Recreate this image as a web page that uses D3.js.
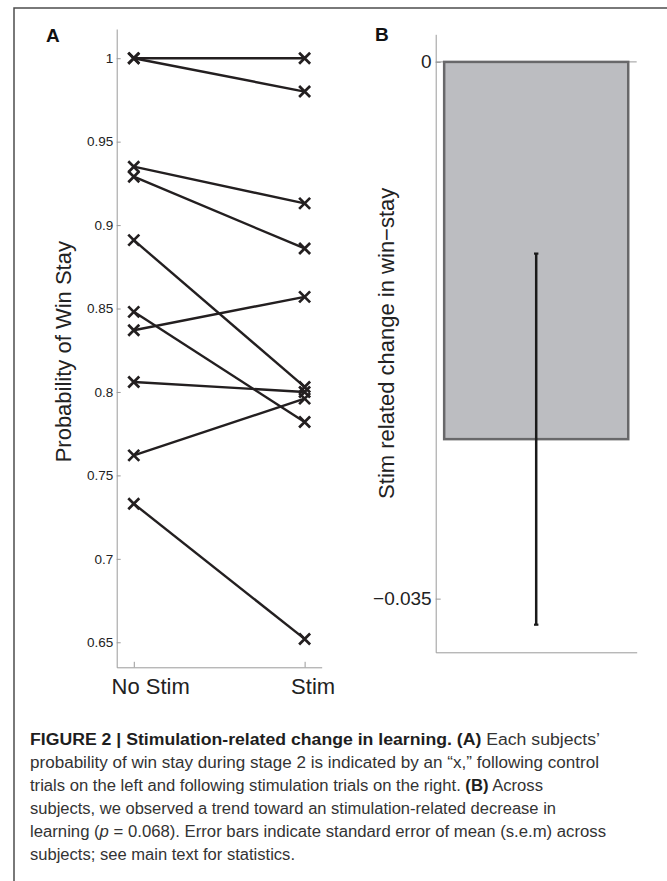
<!DOCTYPE html>
<html><head><meta charset="utf-8">
<script src="https://cdn.jsdelivr.net/npm/d3@7"></script>
<style>body{margin:0;background:#fff} svg{display:block}</style>
</head><body>
<svg id="c" width="667" height="881"></svg>
<script>
// ---------- data ----------
const conditions = ["No Stim", "Stim"];
const noStimValues = [1.000, 1.000, 0.935, 0.929, 0.891, 0.848, 0.837, 0.806, 0.762, 0.733];
const stimValues   = [1.000, 0.980, 0.913, 0.886, 0.803, 0.782, 0.857, 0.800, 0.796, 0.652];
const yTicksA = [0.65, 0.7, 0.75, 0.8, 0.85, 0.9, 0.95, 1];
const yTickLabelsA = ["0.65", "0.7", "0.75", "0.8", "0.85", "0.9", "0.95", "1"];
const barCategories = ["Stim"];
const barMeans = [-0.0246];
const barSems = [0.0121];
const yTicksB = [0, -0.035];
const yTickLabelsB = ["0", "\u22120.035"];
const captionLines = [
  [["b", "FIGURE 2 | Stimulation-related change in learning. (A)"], ["n", " Each subjects\u2019"]],
  [["n", "probability of win stay during stage 2 is indicated by an \u201cx,\u201d following control"]],
  [["n", "trials on the left and following stimulation trials on the right. "], ["b", "(B)"], ["n", " Across"]],
  [["n", "subjects, we observed a trend toward an stimulation-related decrease in"]],
  [["n", "learning ("], ["i", "p"], ["n", " = 0.068). Error bars indicate standard error of mean (s.e.m) across"]],
  [["n", "subjects; see main text for statistics."]]
];
const captionLineEnds = [600, 599, 543, 556, 606, 295];

// ---------- setup ----------
const svg = d3.select("#c");
const FONT = "'Liberation Sans', Arial, Helvetica, sans-serif";
const AXIS_COL = "#9a9a9a";
const INK = "#231f20";

// frame
svg.append("path").attr("d", "M14,881V8H667").attr("fill", "none")
  .attr("stroke", "#4d4d4d").attr("stroke-width", 1.5);

// ---------- Panel A ----------
const xA = d3.scalePoint().domain(conditions).range([116.7, 321.7]).padding(0.1);
const yA = d3.scaleLinear().domain([0.635, 1.0175]).range([667.3, 29]);

const gA = svg.append("g");
const yAxisA = d3.axisLeft(yA).tickValues(yTicksA)
  .tickFormat((d, i) => yTickLabelsA[i]).tickSize(-4).tickSizeOuter(0).tickPadding(3.4);
const gyA = gA.append("g").attr("transform", "translate(116.7,0)").call(yAxisA);
gyA.select(".domain").attr("stroke", AXIS_COL);
gyA.selectAll(".tick line").attr("stroke", AXIS_COL);
gyA.selectAll(".tick text").attr("font-family", FONT).attr("font-size", 13.5).attr("fill", "#222");

const xAxisA = d3.axisBottom(xA).tickSize(-5.5).tickSizeOuter(0).tickPadding(11);
const gxA = gA.append("g").attr("transform", "translate(0,667.3)").call(xAxisA);
gxA.select(".domain").attr("stroke", AXIS_COL);
gxA.selectAll(".tick line").attr("stroke", AXIS_COL);
const labelShift = [16.4, 8];
gxA.selectAll(".tick text").attr("font-family", FONT).attr("font-size", 22).attr("fill", "#222")
  .attr("dx", (d, i) => labelShift[i]);

// y label A
gA.append("text").attr("transform", "translate(71,351.7) rotate(-90)")
  .attr("text-anchor", "middle").attr("font-family", FONT).attr("font-size", 22).attr("fill", "#222")
  .text("Probability of Win Stay");

// lines
const pairs = noStimValues.map((v, i) => [v, stimValues[i]]);
gA.append("g").selectAll("line").data(pairs).join("line")
  .attr("x1", xA(conditions[0])).attr("x2", xA(conditions[1]))
  .attr("y1", d => yA(d[0])).attr("y2", d => yA(d[1]))
  .attr("stroke", INK).attr("stroke-width", 2.4);

const xMark = "M-5.5,-5.5L5.5,5.5M-5.5,5.5L5.5,-5.5";
const pts = [];
noStimValues.forEach(v => pts.push([conditions[0], v]));
stimValues.forEach(v => pts.push([conditions[1], v]));
gA.append("g").selectAll("path").data(pts).join("path")
  .attr("transform", d => `translate(${xA(d[0])},${yA(d[1])})`)
  .attr("d", xMark).attr("fill", "none").attr("stroke", INK).attr("stroke-width", 2.7);

gA.append("text").attr("x", 46).attr("y", 41.5).attr("font-family", FONT)
  .attr("font-weight", "bold").attr("font-size", 19).attr("fill", "#111").text("A");

// ---------- Panel B ----------
const xB = d3.scaleBand().domain(barCategories).range([435.7, 636.7]).paddingInner(0).paddingOuter(0.046);
const yB = d3.scaleLinear().domain([-0.0385, 0.0018]).range([652.3, 34.3]);
const gB = svg.append("g");

// zero line
gB.append("line").attr("x1", 435.7).attr("x2", 636.7).attr("y1", yB(0)).attr("y2", yB(0))
  .attr("stroke", AXIS_COL).attr("stroke-width", 1);

const yAxisB = d3.axisLeft(yB).tickValues(yTicksB)
  .tickFormat((d, i) => yTickLabelsB[i]).tickSize(-5).tickSizeOuter(0).tickPadding(4);
const gyB = gB.append("g").attr("transform", "translate(435.7,0)").call(yAxisB);
gyB.select(".domain").attr("stroke", AXIS_COL);
gyB.selectAll(".tick line").attr("stroke", AXIS_COL);
gyB.selectAll(".tick text").attr("font-family", FONT).attr("font-size", 19).attr("fill", "#222");

const xAxisB = d3.axisBottom(xB).tickSize(0).tickSizeOuter(0).tickFormat("");
const gxB = gB.append("g").attr("transform", "translate(0,652.3)").call(xAxisB);
gxB.select(".domain").attr("stroke", AXIS_COL);
gxB.selectAll(".tick").remove();

gB.append("g").selectAll("rect").data(barCategories).join("rect")
  .attr("x", d => xB(d)).attr("width", xB.bandwidth())
  .attr("y", (d, i) => yB(Math.max(0, barMeans[i])))
  .attr("height", (d, i) => Math.abs(yB(barMeans[i]) - yB(0)))
  .attr("fill", "#bcbdc1").attr("stroke", "#68686a").attr("stroke-width", 2.5);

const eb = gB.append("g").selectAll("g").data(barCategories).join("g");
eb.append("line")
  .attr("x1", d => xB(d) + xB.bandwidth() / 2).attr("x2", d => xB(d) + xB.bandwidth() / 2)
  .attr("y1", (d, i) => yB(barMeans[i] + barSems[i])).attr("y2", (d, i) => yB(barMeans[i] - barSems[i]))
  .attr("stroke", "#1a1a1a").attr("stroke-width", 2.5);
[1, -1].forEach(s => {
  eb.append("line")
    .attr("x1", d => xB(d) + xB.bandwidth() / 2 - 2.2).attr("x2", d => xB(d) + xB.bandwidth() / 2 + 2.2)
    .attr("y1", (d, i) => yB(barMeans[i] + s * barSems[i])).attr("y2", (d, i) => yB(barMeans[i] + s * barSems[i]))
    .attr("stroke", "#1a1a1a").attr("stroke-width", 2.2);
});

gB.append("text").attr("transform", "translate(394,343.3) rotate(-90)")
  .attr("text-anchor", "middle").attr("font-family", FONT).attr("font-size", 22).attr("fill", "#222")
  .text("Stim related change in win\u2212stay");

gB.append("text").attr("x", 375).attr("y", 40.5).attr("font-family", FONT)
  .attr("font-weight", "bold").attr("font-size", 19).attr("fill", "#111").text("B");

// ---------- caption ----------
const cap = svg.append("g");
captionLines.forEach((parts, li) => {
  const t = cap.append("text").attr("x", 30).attr("y", 744.5 + li * 23.1)
    .attr("font-family", FONT).attr("font-size", 16).attr("fill", "#333")
    .attr("textLength", captionLineEnds[li] - 30).attr("lengthAdjust", "spacingAndGlyphs");
  parts.forEach(([s, str]) => {
    const ts = t.append("tspan").text(str);
    if (s === "b") ts.attr("font-weight", "bold").attr("fill", "#1e1e1e");
    if (s === "i") ts.attr("font-style", "italic");
  });
});
</script>
</body></html>
